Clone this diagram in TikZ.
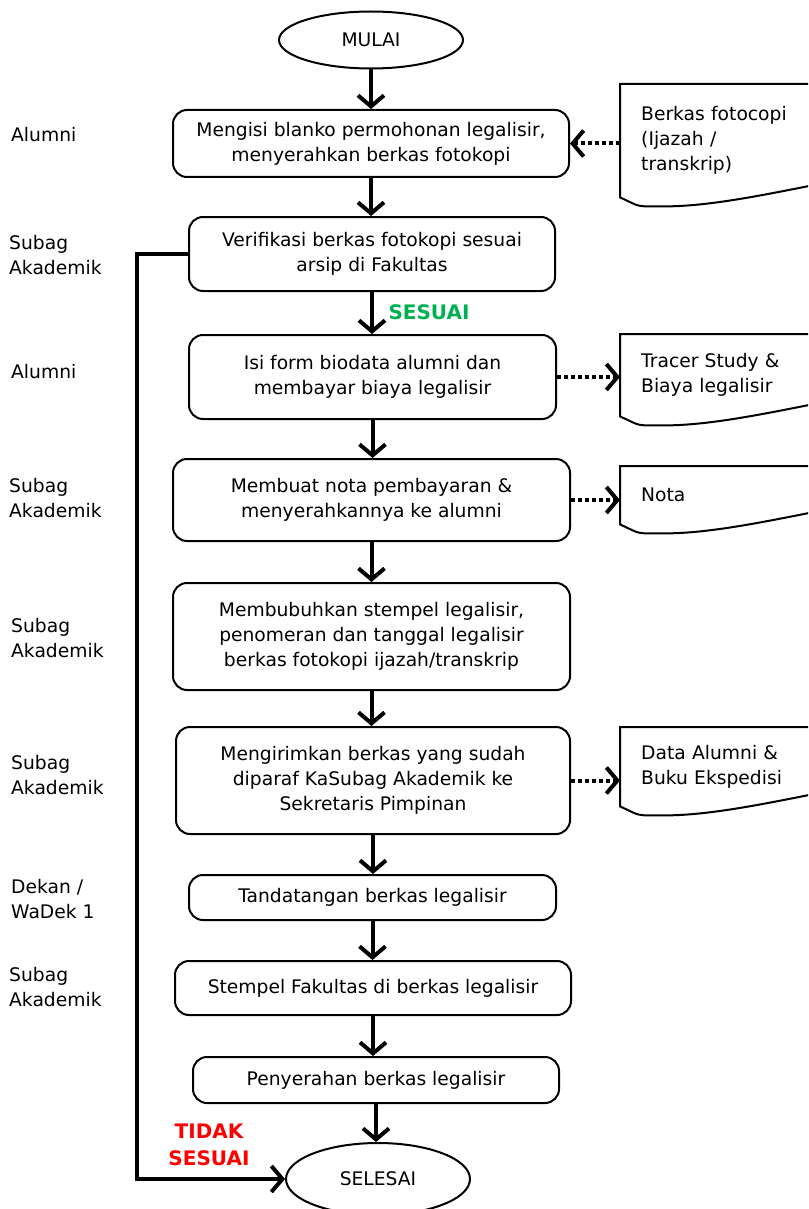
\documentclass[tikz,border=0pt]{standalone}
\usepackage{fontspec}
\setmainfont{DejaVu Sans}
\usepackage{tikz}
\usetikzlibrary{arrows.meta,shapes.geometric,calc,positioning}
\definecolor{okgreen}{RGB}{0,176,80}
\definecolor{nored}{RGB}{255,0,0}
% outline of a document symbol (wavy bottom)
\newcommand{\docoutline}[1]{%
  \draw[line width=2pt] (#1.north east) -- (#1.north west) -- (#1.south west)
    .. controls +(22,10) and +(-30,0) .. ($(#1.south west)+(44,9)$)
    .. controls +(45,0) and +(-70,14) .. ($(#1.south west)+(212,-16)$);}

\begin{document}
\begin{tikzpicture}[x=1pt,y=-1pt,
  every node/.style={font=\fontsize{18.7}{25}\selectfont},
  proc/.style={draw,rounded corners=14pt,line width=2pt,align=center,inner sep=0pt},
  term/.style={draw,ellipse,line width=2pt,inner sep=0pt,minimum width=184pt},
  doc/.style={anchor=north west,align=left,text width=170pt,inner xsep=21pt,inner ysep=0pt},
  role/.style={anchor=west,align=left,inner sep=0pt},
  flow/.style={line width=4pt,-{Straight Barb[length=11pt,width=26pt]}},
  dotflow/.style={flow,dash pattern=on 4pt off 3pt}
]
  \useasboundingbox (0,0) rectangle (808,1209);
  \clip (0,0) rectangle (808,1209);

  \node[term,minimum height=57pt] (mulai) at (371,40) {MULAI};
  \node[proc,minimum width=396pt,minimum height=67pt] (b1) at (371,143.5)
    {Mengisi blanko permohonan legalisir,\\menyerahkan berkas fotokopi};
  \node[proc,minimum width=366pt,minimum height=74pt] (b2) at (372,254)
    {Verifikasi berkas fotokopi sesuai\\arsip di Fakultas};
  \node[proc,minimum width=367pt,minimum height=84pt] (b3) at (372.5,377)
    {Isi form biodata alumni dan\\membayar biaya legalisir};
  \node[proc,minimum width=397pt,minimum height=82pt] (b4) at (371.5,500)
    {Membuat nota pembayaran \&\\menyerahkannya ke alumni};
  \node[proc,minimum width=397pt,minimum height=107pt] (b5) at (371.5,636.5)
    {Membubuhkan stempel legalisir,\\penomeran dan tanggal legalisir\\berkas fotokopi ijazah/transkrip};
  \node[proc,minimum width=394pt,minimum height=107pt] (b6) at (373,780.5)
    {Mengirimkan berkas yang sudah\\diparaf KaSubag Akademik ke\\Sekretaris Pimpinan};
  \node[proc,minimum width=367pt,minimum height=45pt] (b7) at (372.5,897.5)
    {Tandatangan berkas legalisir};
  \node[proc,minimum width=396pt,minimum height=54pt] (b8) at (373,988)
    {Stempel Fakultas di berkas legalisir};
  \node[proc,minimum width=366pt,minimum height=46pt] (b9) at (376,1080)
    {Penyerahan berkas legalisir};
  \node[term,minimum height=72pt] (selesai) at (378,1179) {SELESAI};

  % documents
  \node[doc,minimum height=113pt] (d1) at (620,84) {Berkas fotocopi\\(Ijazah /\\transkrip)};
  \node[doc,minimum height=82pt] (d2) at (620,334) {Tracer Study \&\\Biaya legalisir};
  \node[doc,minimum height=58pt] (d3) at (620,466) {Nota};
  \node[doc,minimum height=79pt] (d4) at (620,727) {Data Alumni \&\\Buku Ekspedisi};
  \docoutline{d1}
  \docoutline{d2}
  \docoutline{d3}
  \docoutline{d4}

  % roles
  \node[role] (r1) at (11,135) {Alumni};
  \node[role] (r2) at (9,255.5) {Subag\\Akademik};
  \node[role] (r3) at (11,372) {Alumni};
  \node[role] (r4) at (9,498.5) {Subag\\Akademik};
  \node[role] (r5) at (11,638) {Subag\\Akademik};
  \node[role] (r6) at (11,775) {Subag\\Akademik};
  \node[role] (r7) at (11,899.5) {Dekan /\\WaDek 1};
  \node[role] (r8) at (9,987) {Subag\\Akademik};

  % main flow
  \foreach \a/\b in {mulai/b1,b1/b2,b2/b3,b3/b4,b4/b5,b5/b6,b6/b7,b7/b8,b8/b9,b9/selesai}
    \draw[flow] (\a.south) -- (\a.south |- \b.north);

  \node[font=\fontsize{20}{25}\selectfont\bfseries,text=okgreen,anchor=west] (ok) at (385,312) {SESUAI};
  \node[font=\fontsize{20}{27}\selectfont\bfseries,text=nored,align=center] (no) at (209,1145) {TIDAK\\SESUAI};

  \coordinate (turn) at (137,0);
  \draw[flow] (b2.west) -- (b2.west -| turn) |- (selesai.west);

  % documents links
  \draw[dotflow] (b1.east -| d1.west) -- (b1.east);
  \draw[dotflow] (b3.east) -- (b3.east -| d2.west);
  \draw[dotflow] (b4.east) -- (b4.east -| d3.west);
  \draw[dotflow] (b6.east) -- (b6.east -| d4.west);
\end{tikzpicture}
\end{document}
